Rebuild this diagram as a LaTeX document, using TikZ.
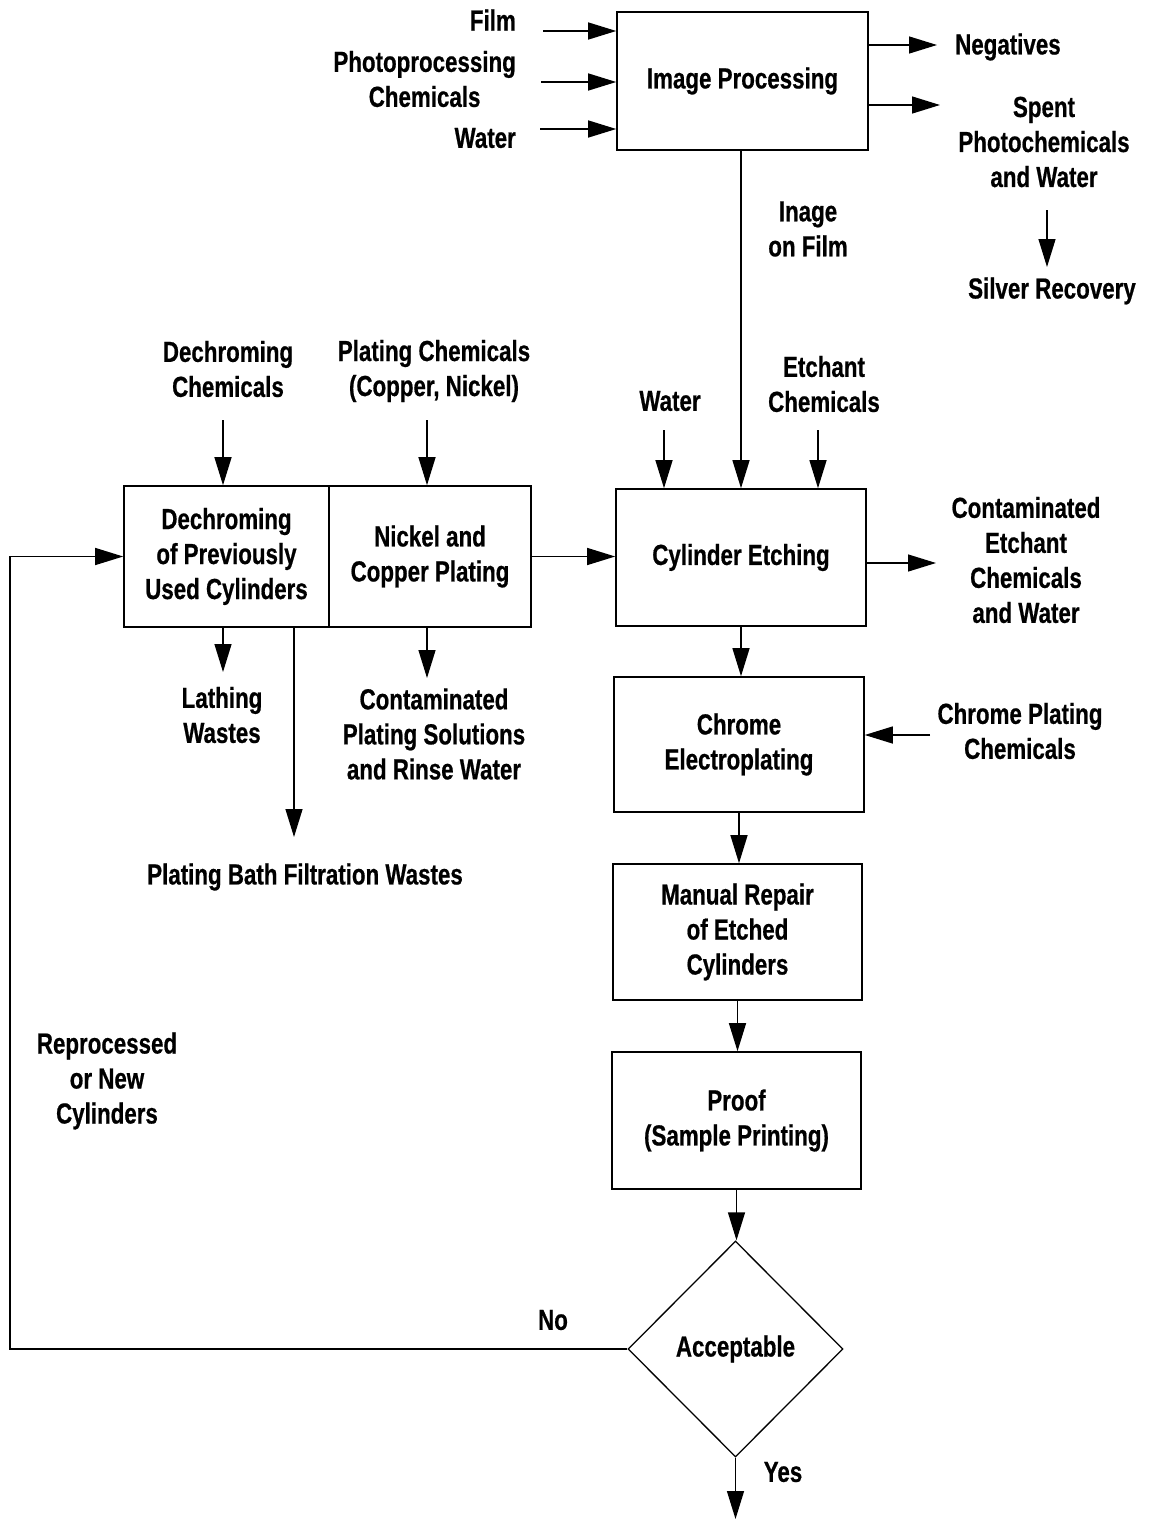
\documentclass[tikz,border=0pt]{standalone}
\usepackage{fontspec}
\setmainfont{Liberation Sans}[FakeStretch=0.77, BoldFeatures={FakeBold=0.6}]
\usetikzlibrary{arrows.meta,shapes.geometric}
\begin{document}
\begin{tikzpicture}[x=1pt,y=-1pt,
  every node/.style={font=\bfseries\fontsize{29}{35}\selectfont, align=center, inner sep=0pt},
  procbox/.style={draw, line width=1.6pt, minimum width=#1, minimum height=137pt},
  arr/.style={-{Triangle[length=28pt,width=17pt]}, line width=1.3pt},
  ln/.style={line width=1.3pt}]
\useasboundingbox (0,0) rectangle (1152,1520);

% boxes
\node[procbox=251pt, minimum height=138pt] (ip) at (742.5,81) {Image Processing};
\node[procbox=250pt] (ce) at (741,557.5) {Cylinder Etching};
\node[procbox=205pt, minimum height=141pt] (dech) at (226.5,556.5) {Dechroming\\of Previously\\Used Cylinders};
\node[procbox=202pt, minimum height=141pt] (npl) at (430,556.5) {Nickel and\\Copper Plating};
\node[procbox=250pt, minimum height=135pt] (cr) at (739,744.5) {Chrome\\Electroplating};
\node[procbox=249pt, minimum height=136pt] (mr) at (737.5,932) {Manual Repair\\of Etched\\Cylinders};
\node[procbox=249pt] (pr) at (736.5,1120.5) {Proof\\(Sample Printing)};
\node[draw, diamond, line width=1.3pt, minimum width=215pt, minimum height=216pt] (dia) at (735.5,1349) {Acceptable};

% labels
\node[anchor=east, align=right] (film) at (516,20) {Film};
\node[anchor=east] (photo) at (516,79) {Photoprocessing\\Chemicals};
\node[anchor=east, align=right] (water1) at (516,138) {Water};
\node[anchor=west] (neg) at (955,47) {Negatives};
\node (spent) at (1044,142) {Spent\\Photochemicals\\and Water};
\node (silver) at (1052,291) {Silver Recovery};
\node (inage) at (808,229) {Inage\\on Film};
\node (dchem) at (228,369) {Dechroming\\Chemicals};
\node (pchem) at (434,371) {Plating Chemicals\\(Copper, Nickel)};
\node (water2) at (670,401) {Water};
\node (echem) at (824,384) {Etchant\\Chemicals};
\node (cetch) at (1026,560) {Contaminated\\Etchant\\Chemicals\\and Water};
\node (lath) at (222,715) {Lathing\\Wastes};
\node (cplat) at (434,734) {Contaminated\\Plating Solutions\\and Rinse Water};
\node (filt) at (305,877) {Plating Bath Filtration Wastes};
\node (crchem) at (1020,731) {Chrome Plating\\Chemicals};
\node (repro) at (107,1081) {Reprocessed\\or New\\Cylinders};
\node (no) at (553,1320) {No};
\node (yes) at (783,1472) {Yes};

% free ends
\coordinate (a1) at (543,31);
\coordinate (a2) at (541,82);
\coordinate (a3) at (540,129);
\coordinate (b1) at (937,45);
\coordinate (b2) at (940,105);
\coordinate (s1) at (1047,210);
\coordinate (s2) at (1047,267);
\coordinate (w2) at (664,430);
\coordinate (e2) at (818,430);
\coordinate (d2) at (223,420);
\coordinate (p2) at (427,420);
\coordinate (ceout) at (936,563);
\coordinate (lw) at (223,672);
\coordinate (fw) at (294,837);
\coordinate (cw) at (427,678);
\coordinate (crin) at (930,735);
\coordinate (yesend) at (737,1519);
\coordinate (lp) at (10,1349);

% connectors
\draw[arr] (a1) -- (a1 -| ip.west);
\draw[arr] (a2) -- (a2 -| ip.west);
\draw[arr] (a3) -- (a3 -| ip.west);
\draw[arr] (b1 -| ip.east) -- (b1);
\draw[arr] (b2 -| ip.east) -- (b2);
\draw[arr] (s1) -- (s2);
\draw[arr] (ip.south -| ce.north) -- (ce.north);
\draw[arr] (w2) -- (w2 |- ce.north);
\draw[arr] (e2) -- (e2 |- ce.north);
\draw[arr] (d2) -- (d2 |- dech.north);
\draw[arr] (p2) -- (p2 |- npl.north);
\draw[arr] (npl.east) -- (npl.east -| ce.west);
\draw[arr] (ceout -| ce.east) -- (ceout);
\draw[arr] (lw |- dech.south) -- (lw);
\draw[arr] (fw |- dech.south) -- (fw);
\draw[arr] (cw |- npl.south) -- (cw);
\draw[arr] (ce.south) -- (ce.south |- cr.north);
\draw[arr] (crin) -- (crin -| cr.east);
\draw[arr] (cr.south) -- (cr.south |- mr.north);
\draw[arr] (mr.south) -- (mr.south |- pr.north);
\draw[arr] (pr.south) -- (pr.south |- dia.north);
\draw[arr] (dia.south) -- (dia.south |- yesend);
\draw[arr] (dia.west) -- (lp) |- (dech.west);
\end{tikzpicture}
\end{document}
